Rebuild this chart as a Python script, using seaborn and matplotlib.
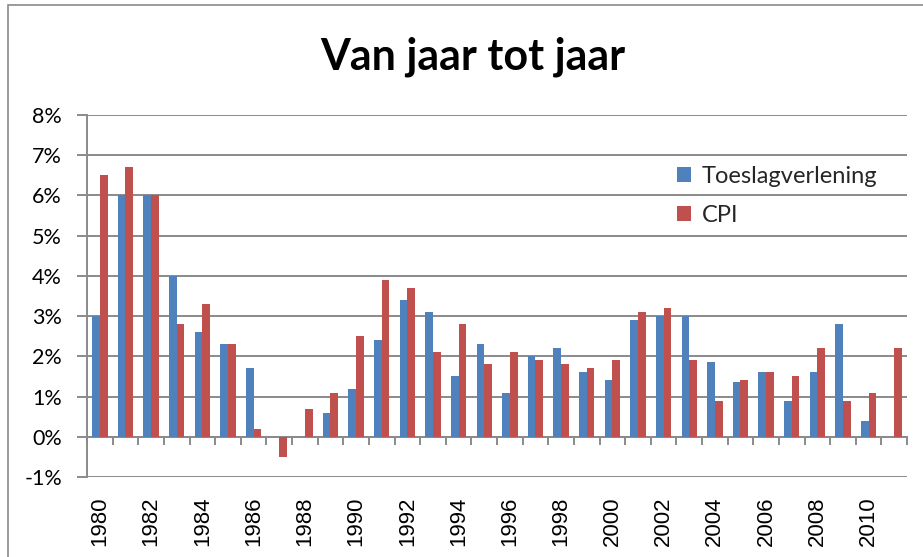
import numpy as np
import pandas as pd
import matplotlib
matplotlib.use("Agg")
import matplotlib.pyplot as plt
import seaborn as sns
from matplotlib.patches import Rectangle
from matplotlib.ticker import FuncFormatter, FixedLocator

years = list(range(1980, 2012))
toeslag = [3.0, 6.0, 6.0, 4.0, 2.6, 2.3, 1.7, 0.0, 0.0, 0.6, 1.2, 2.4, 3.4, 3.1, 1.5, 2.3,
           1.1, 2.0, 2.2, 1.6, 1.4, 2.9, 3.0, 3.0, 1.85, 1.35, 1.6, 0.9, 1.6, 2.8, 0.4, np.nan]
cpi = [6.5, 6.7, 6.0, 2.8, 3.3, 2.3, 0.2, -0.5, 0.7, 1.1, 2.5, 3.9, 3.7, 2.1, 2.8, 1.8,
       2.1, 1.9, 1.8, 1.7, 1.9, 3.1, 3.2, 1.9, 0.9, 1.42, 1.6, 1.5, 2.2, 0.9, 1.1, 2.2]
series_names = ["Toeslagverlening", "CPI"]
colors = ["#4F81BD", "#C0504D"]
title = "Van jaar tot jaar"

df = pd.DataFrame({
    "jaar": [str(y) for y in years] * 2,
    "waarde": toeslag + cpi,
    "reeks": [series_names[0]] * len(years) + [series_names[1]] * len(years),
})

sns.set_theme(style="white")
plt.rcParams["font.family"] = ["Lato", "DejaVu Sans"]

fig = plt.figure(figsize=(9.23, 5.57), dpi=100)
ax = fig.add_axes([87 / 923, 1 - 477 / 557, (907 - 87) / 923, (477 - 115) / 557])

sns.barplot(data=df, x="jaar", y="waarde", hue="reeks", order=[str(y) for y in years],
            hue_order=series_names, palette=dict(zip(series_names, colors)),
            saturation=1, width=0.6, gap=0, ax=ax, linewidth=0, legend=True)

ax.set_xlim(-0.5, len(years) - 0.5)
ax.set_ylim(-1, 8)
ax.set_yticks(range(-1, 9))
ax.yaxis.set_major_formatter(FuncFormatter(lambda v, p: f"{v:.0f}%"))
ax.grid(axis="y", color="#8a8a8a", linewidth=1.4)
ax.set_axisbelow(True)
for s in ["top", "right", "bottom"]:
    ax.spines[s].set_visible(False)
ax.spines["left"].set_color("#8a8a8a")
ax.spines["left"].set_linewidth(1.4)
ax.tick_params(axis="y", which="major", left=True, length=7, width=1.4, color="#8a8a8a",
               labelsize=15.5, pad=11, labelcolor="black")
ax.set_xlabel("")
ax.set_ylabel("")

# x tick labels every other year, at bottom
pos = list(range(0, len(years), 2))
ax.set_xticks(pos)
ax.set_xticklabels([str(years[i]) for i in pos], rotation=90, fontsize=16,
                   family=["Liberation Sans", "DejaVu Sans"])
ax.tick_params(axis="x", which="major", length=0, pad=14, labelcolor="black")

# category axis crossing at 0%
sec = ax.secondary_xaxis(1 / 9)
sec.spines["bottom"].set_color("#8a8a8a")
sec.spines["bottom"].set_linewidth(1.4)
sec.xaxis.set_major_locator(FixedLocator(np.arange(-0.5, len(years), 1.0)))
sec.tick_params(axis="x", direction="out", length=6, width=1.4, color="#8a8a8a", labelbottom=False)

fig.text(473 / 923, 1 - 57 / 557, title, ha="center", va="center",
         fontsize=31, fontweight="bold", color="black")

leg = ax.legend(loc="upper left", bbox_to_anchor=(656 / 923, 1 - 145 / 557),
                bbox_transform=fig.transFigure, frameon=False, fontsize=17,
                handlelength=0.6, handleheight=0.6, handletextpad=0.45, labelspacing=0.75)

fig.patches.append(Rectangle((8 / 923, -0.1), 1.2, (557 - 5) / 557 + 0.1,
                             transform=fig.transFigure, fill=False, edgecolor="#8a8a8a",
                             linewidth=1.2, figure=fig))

fig.savefig("out.png", dpi=100)
